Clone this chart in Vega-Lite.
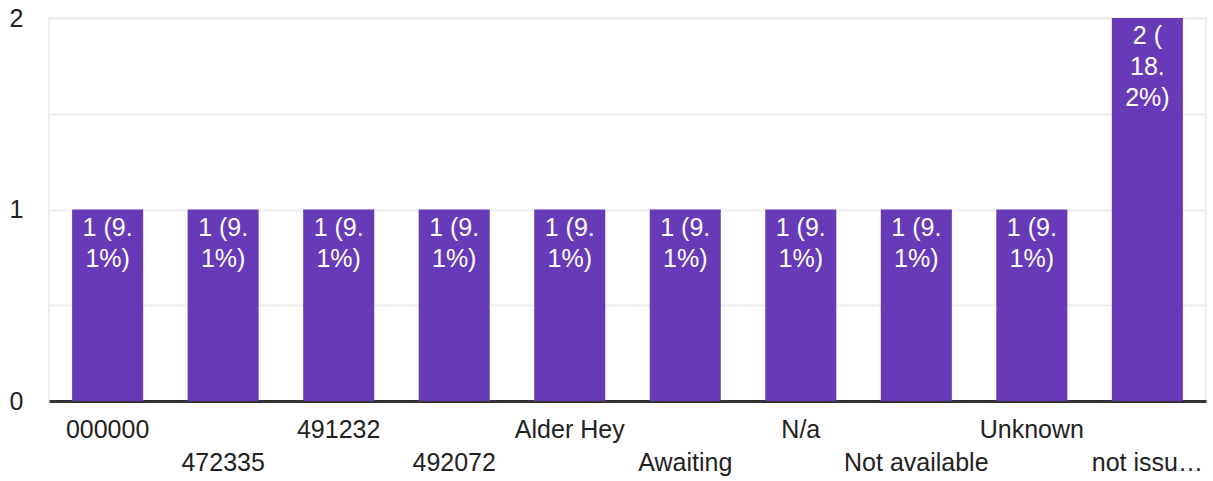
{
  "$schema": "https://vega.github.io/schema/vega-lite/v6.json",
  "autosize": "none",
  "width": 1157,
  "height": 383,
  "padding": {"left": 49, "top": 18, "right": 7, "bottom": 80},
  "background": "white",
  "config": {
    "font": "Liberation Sans",
    "view": {"stroke": "#eeeeee", "strokeWidth": 2}
  },
  "data": {
    "values": [
      {"answer": "000000", "count": 1, "label": "1 (9.\n1%)"},
      {"answer": "472335", "count": 1, "label": "1 (9.\n1%)"},
      {"answer": "491232", "count": 1, "label": "1 (9.\n1%)"},
      {"answer": "492072", "count": 1, "label": "1 (9.\n1%)"},
      {"answer": "Alder Hey", "count": 1, "label": "1 (9.\n1%)"},
      {"answer": "Awaiting", "count": 1, "label": "1 (9.\n1%)"},
      {"answer": "N/a", "count": 1, "label": "1 (9.\n1%)"},
      {"answer": "Not available", "count": 1, "label": "1 (9.\n1%)"},
      {"answer": "Unknown", "count": 1, "label": "1 (9.\n1%)"},
      {"answer": "not issu…", "count": 2, "label": "2 (\n18.\n2%)"}
    ]
  },
  "encoding": {
    "x": {
      "field": "answer",
      "type": "nominal",
      "sort": null,
      "scale": {"paddingInner": 0.385, "paddingOuter": 0.2},
      "axis": {
        "title": null,
        "labelAngle": 0,
        "ticks": false,
        "domainColor": "#333333",
        "domainWidth": 3,
        "labelColor": "#222222",
        "labelFontSize": 25,
        "labelPadding": 16,
        "labelLineHeight": 33,
        "labelLimit": 300,
        "labelExpr": "round(datum.index * 9) % 2 ? ['', datum.label] : datum.label"
      }
    },
    "y": {
      "field": "count",
      "type": "quantitative",
      "scale": {"domain": [0, 2]},
      "axis": {
        "title": null,
        "values": [0, 0.5, 1, 1.5, 2],
        "labelExpr": "datum.value % 1 ? '' : format(datum.value, 'd')",
        "ticks": false,
        "domain": false,
        "gridColor": "#eeeeee",
        "gridWidth": 2,
        "labelColor": "#222222",
        "labelFontSize": 25,
        "labelPadding": 26
      }
    }
  },
  "layer": [
    {"mark": {"type": "bar", "color": "#673AB7"}},
    {
      "mark": {
        "type": "text",
        "color": "white",
        "fontSize": 25,
        "baseline": "top",
        "align": "center",
        "dy": 6,
        "lineHeight": 31,
        "lineBreak": "\n"
      },
      "encoding": {"text": {"field": "label"}}
    }
  ]
}
